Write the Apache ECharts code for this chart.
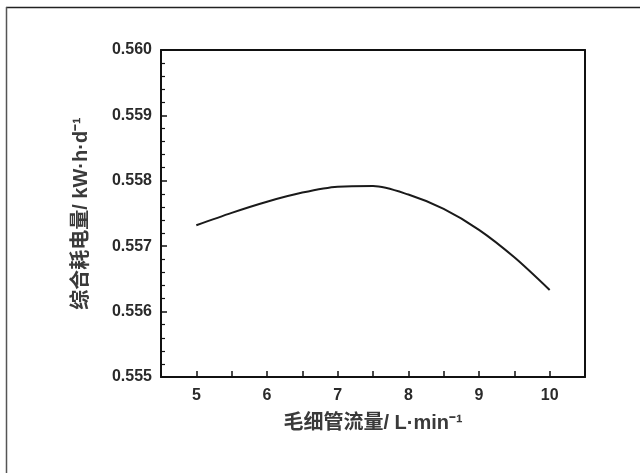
<!DOCTYPE html>
<html>
<head>
<meta charset="utf-8">
<script src="https://cdn.jsdelivr.net/npm/echarts@6/dist/echarts.min.js"></script>
<style>
html,body{margin:0;padding:0;background:#fff;}
#c{width:644px;height:473px;}
</style>
</head>
<body>
<div id="c"></div>
<script>
const flowRates = [5, 5.5, 6, 6.5, 7, 7.5, 8, 8.5, 9, 9.5, 10];
const energyUse = [0.55732, 0.55751, 0.55768, 0.55782, 0.55791, 0.55792, 0.55779, 0.55757, 0.55725, 0.55683, 0.55633];
const xTickLabels = [5, 6, 7, 8, 9, 10];
const yTickLabels = [0.555, 0.556, 0.557, 0.558, 0.559, 0.560];
const xTitle = '毛细管流量/ L·min⁻¹';
const yTitle = '综合耗电量/ kW·h·d⁻¹';

const chart = echarts.init(document.getElementById('c'), null, {renderer: 'canvas'});
const fontLatin = '"Liberation Sans", Arial, sans-serif';
const fontCJK = '"Liberation Sans", "Noto Sans CJK SC", sans-serif';
const textColor = '#2a2a2a';

chart.setOption({
  animation: false,
  backgroundColor: '#fff',
  graphic: [
    {type: 'line', shape: {x1: 6, y1: 7.5, x2: 640, y2: 7.5}, style: {stroke: '#222', lineWidth: 1.5}},
    {type: 'line', shape: {x1: 6.5, y1: 7, x2: 6.5, y2: 473}, style: {stroke: '#555', lineWidth: 1.5}}
  ],
  grid: {left: 161, right: 59, top: 50, bottom: 96, show: false},
  xAxis: [{
    type: 'value', min: 4.5, max: 10.5, interval: 0.5,
    name: xTitle, nameLocation: 'middle', nameGap: 36,
    nameTextStyle: {fontFamily: fontCJK, fontSize: 20, fontWeight: 'bold', color: '#3a3a3a'},
    axisLine: {show: true, onZero: false, lineStyle: {color: '#111', width: 2}},
    axisTick: {show: true, inside: true, length: 6, lineStyle: {color: '#111', width: 1.5}, interval: 0},
    axisLabel: {
      margin: 11, fontFamily: fontLatin, fontSize: 16, fontWeight: 'bold', color: textColor,
      formatter: function (v) { return xTickLabels.indexOf(v) >= 0 ? String(v) : ''; }
    },
    splitLine: {show: false}
  }, {
    type: 'value', min: 4.5, max: 10.5, position: 'top',
    axisLine: {show: true, onZero: false, lineStyle: {color: '#111', width: 2}},
    axisTick: {show: false}, axisLabel: {show: false}, splitLine: {show: false}
  }],
  yAxis: [{
    type: 'value', min: 0.555, max: 0.560, interval: 0.001,
    name: yTitle, nameLocation: 'middle', nameGap: 70, nameRotate: 90,
    nameTextStyle: {fontFamily: fontCJK, fontSize: 20, fontWeight: 'bold', color: '#3a3a3a'},
    axisLine: {show: true, onZero: false, lineStyle: {color: '#111', width: 2}},
    axisTick: {show: true, inside: true, length: 6, lineStyle: {color: '#111', width: 1.5}},
    minorTick: {show: true, splitNumber: 5, length: 4, lineStyle: {color: '#111', width: 1.2}},
    axisLabel: {
      margin: 9, fontFamily: fontLatin, fontSize: 16, fontWeight: 'bold', color: textColor,
      formatter: function (v) { return v.toFixed(3); }
    },
    splitLine: {show: false}
  }, {
    type: 'value', min: 0.555, max: 0.560, position: 'right',
    axisLine: {show: true, onZero: false, lineStyle: {color: '#111', width: 2}},
    axisTick: {show: false}, axisLabel: {show: false}, splitLine: {show: false}
  }],
  series: [{
    type: 'line',
    data: flowRates.map((x, i) => [x, energyUse[i]]),
    smooth: 0.3,
    symbol: 'none',
    lineStyle: {color: '#1a1a1a', width: 2}
  }]
});
</script>
</body>
</html>
